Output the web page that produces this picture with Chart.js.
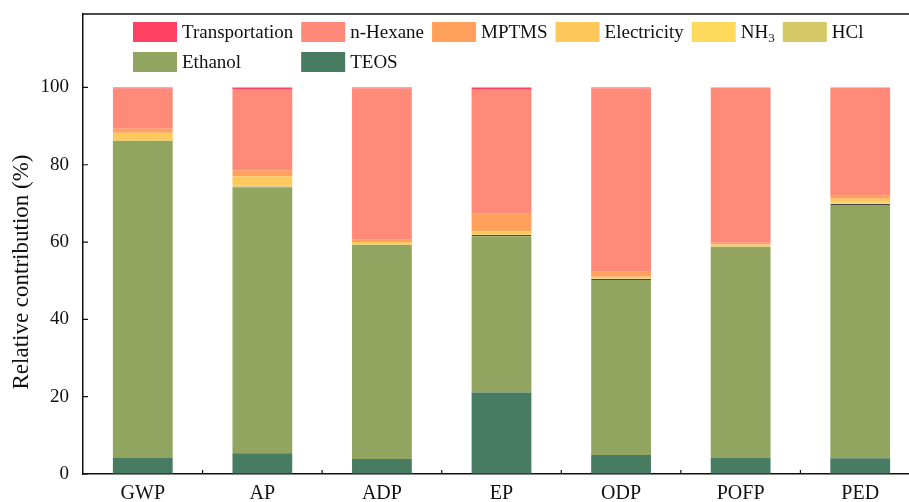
<!DOCTYPE html>
<html>
<head>
<meta charset="utf-8">
<script src="https://cdn.jsdelivr.net/npm/chart.js@4.4.1/dist/chart.umd.min.js"></script>
<style>
  html, body { margin: 0; padding: 0; background: #fff; overflow: hidden; }
  #wrap { width: 909px; height: 502px; overflow: hidden; }
</style>
</head>
<body>
<div id="wrap"><canvas id="barCanvas" width="925" height="515"></canvas></div>
<script>
const categories = ["GWP", "AP", "ADP", "EP", "ODP", "POFP", "PED"];

// contributions in %, bottom of the stack first
const teos           = [4.3, 5.4, 3.9, 21.1, 4.9, 4.3, 4.1];
const ethanol        = [81.9, 68.7, 55.4, 40.4, 45.3, 54.5, 65.5];
const hcl            = [0, 0.3, 0, 0.4, 0.3, 0, 0.3];
const nh3            = [0.2, 0.3, 0.1, 0.2, 0.1, 0.1, 0.3];
const electricity    = [1.9, 2.3, 0.6, 0.7, 0.4, 0.5, 1.0];
const mptms          = [1.0, 1.6, 0.6, 4.5, 1.3, 0.4, 0.8];
const nHexane        = [10.4, 21.0, 39.2, 32.1, 47.5, 40.1, 27.9];
const transportation = [0.3, 0.4, 0.2, 0.6, 0.2, 0.1, 0.1];

const yTicks = [0, 20, 40, 60, 80, 100];

const serif = "'Liberation Serif', 'Times New Roman', serif";

const datasets = [
    { label: "TEOS", data: teos, backgroundColor: "#477b62" },
    { label: "Ethanol", data: ethanol, backgroundColor: "#91a460" },
    { label: "HCl", data: hcl, backgroundColor: "#d3c865",
      borderColor: "rgba(40,40,40,0.85)", borderSkipped: false,
      borderWidth: hcl.map(v => v > 0 ? 1 : 0) },
    { label: "NH3", data: nh3, backgroundColor: "#ffd95c" },
    { label: "Electricity", data: electricity, backgroundColor: "#ffc85c" },
    { label: "MPTMS", data: mptms, backgroundColor: "#ffa05c" },
    { label: "n-Hexane", data: nHexane, backgroundColor: "#ff8a79" },
    { label: "Transportation", data: transportation, backgroundColor: "#ff4262" }
];

// legend rows, drawn inside the frame
const legendRows = [
    ["Transportation", "n-Hexane", "MPTMS", "Electricity", "NH3", "HCl"],
    ["Ethanol", "TEOS"]
];

function drawLabel(ctx, text, x, y) {
    if (text === "NH3") {
        ctx.font = "19px " + serif;
        ctx.fillText("NH", x, y);
        const w = ctx.measureText("NH").width;
        ctx.font = "13px " + serif;
        ctx.fillText("3", x + w, y + 6);
        ctx.font = "19px " + serif;
        return w + ctx.measureText("3").width * 0.7;
    }
    ctx.fillText(text, x, y);
    return ctx.measureText(text).width;
}

const frame = {
    id: "frame",
    afterDraw(chart) {
        const ctx = chart.ctx;
        const a = chart.chartArea;
        const x = chart.scales.x;
        const y = chart.scales.y;
        ctx.save();
        ctx.strokeStyle = "#111";
        ctx.lineWidth = 1.5;
        ctx.beginPath();
        ctx.moveTo(a.left, a.top);
        ctx.lineTo(a.right, a.top);
        ctx.lineTo(a.right, a.bottom);
        ctx.stroke();

        // inward ticks between categories and at y ticks
        ctx.lineWidth = 1.2;
        ctx.beginPath();
        const step = (a.right - a.left) / categories.length;
        for (let i = 1; i < categories.length; i++) {
            const px = x.getPixelForValue(i) - step / 2;
            ctx.moveTo(px, a.bottom);
            ctx.lineTo(px, a.bottom - 4);
        }
        yTicks.forEach(v => {
            const py = y.getPixelForValue(v);
            ctx.moveTo(a.left, py);
            ctx.lineTo(a.left + 5, py);
        });
        ctx.stroke();

        // y axis title
        ctx.fillStyle = "#111";
        ctx.font = "23px " + serif;
        ctx.textAlign = "center";
        ctx.textBaseline = "middle";
        ctx.translate(22, 272);
        ctx.rotate(-Math.PI / 2);
        ctx.fillText("Relative contribution (%)", 0, 0);
        ctx.restore();

        // legend
        ctx.save();
        ctx.font = "19px " + serif;
        ctx.textBaseline = "middle";
        ctx.textAlign = "left";
        const colors = {};
        datasets.forEach(d => { colors[d.label] = d.backgroundColor; });
        const boxW = 44, boxH = 20, startX = 133;
        const rowY = [32, 62];
        const colX = [];
        let cx = startX;
        legendRows[0].forEach((name, i) => {
            colX.push(cx);
            ctx.fillStyle = colors[name];
            ctx.fillRect(cx, rowY[0] - boxH / 2, boxW, boxH);
            ctx.fillStyle = "#111";
            const w = drawLabel(ctx, name, cx + boxW + 5, rowY[0] + 1);
            cx += boxW + 5 + w + 8;
        });
        legendRows[1].forEach((name, i) => {
            const lx = colX[i];
            ctx.fillStyle = colors[name];
            ctx.fillRect(lx, rowY[1] - boxH / 2, boxW, boxH);
            ctx.fillStyle = "#111";
            drawLabel(ctx, name, lx + boxW + 5, rowY[1] + 1);
        });
        ctx.restore();
    }
};

const barChart = new Chart(document.querySelector("#barCanvas"), {
    type: "bar",
    data: { labels: categories, datasets: datasets },
    options: {
        responsive: false,
        animation: false,
        layout: { padding: { top: 14, right: 5, left: 0, bottom: 0 } },
        datasets: { bar: { categoryPercentage: 0.5, barPercentage: 1 } },
        plugins: { legend: { display: false }, tooltip: { enabled: false } },
        scales: {
            x: {
                stacked: true,
                afterFit: s => { s.height = 41; s.paddingLeft = 0; s.paddingRight = 0; },
                grid: { drawOnChartArea: false, drawTicks: false },
                border: { color: "#111", width: 1.5 },
                ticks: { color: "#111", padding: 8, font: { family: serif, size: 20 } }
            },
            y: {
                stacked: true,
                min: 0,
                max: 119,
                afterFit: s => { s.width = 83; s.paddingTop = 0; s.paddingBottom = 0; },
                afterBuildTicks: s => { s.ticks = yTicks.map(v => ({ value: v })); },
                grid: { drawOnChartArea: false, drawTicks: false },
                border: { color: "#111", width: 1.5 },
                ticks: { color: "#111", padding: 14, font: { family: serif, size: 19 } }
            }
        }
    },
    plugins: [frame]
});
</script>
</body>
</html>
